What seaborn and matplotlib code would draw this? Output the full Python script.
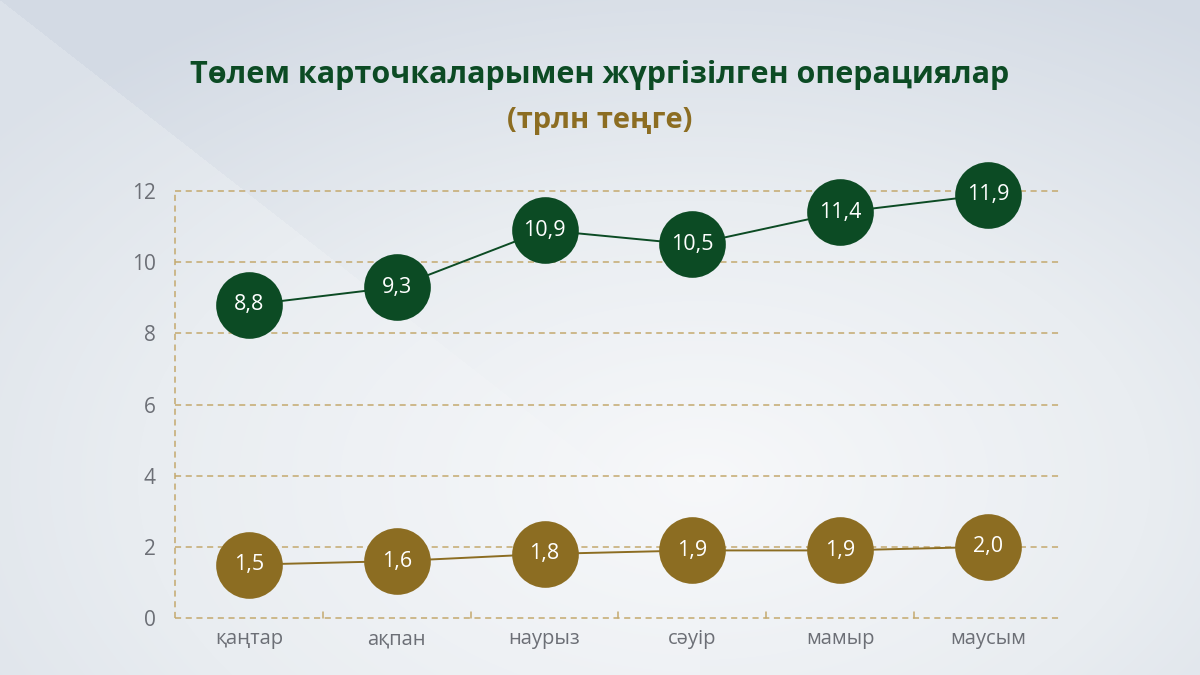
import numpy as np
import pandas as pd
import seaborn as sns
import matplotlib.pyplot as plt
from matplotlib.colors import LinearSegmentedColormap

# chart data
months = ['қаңтар', 'ақпан', 'наурыз', 'сәуір', 'мамыр', 'маусым']
cards_total = [8.8, 9.3, 10.9, 10.5, 11.4, 11.9]
cards_other = [1.5, 1.6, 1.8, 1.9, 1.9, 2.0]
y_ticks = [0, 2, 4, 6, 8, 10, 12]

GREEN = '#0c4b24'
GOLD = '#8c6d22'
GRID = '#c4a96e'
TICK = '#6c6f76'

sns.set_theme(style='white')
plt.rcParams['font.family'] = ['Open Sans', 'DejaVu Sans']

df = pd.DataFrame({
    'month': months * 2,
    'value': cards_total + cards_other,
    'series': ['total'] * len(months) + ['other'] * len(months),
})

fig = plt.figure(figsize=(12, 6.75), dpi=100)

# background gradient
bg = fig.add_axes([0, 0, 1, 1], zorder=-1)
h, w = 675, 1200
yy, xx = np.mgrid[0:h, 0:w]
r = np.sqrt(((xx - 700) / 900.0) ** 2 + ((yy - 480) / 560.0) ** 2)
r = np.clip(r, 0, 1)
# lighter diagonal band in the top-left corner
band = (yy > xx * 0.78) & (xx < 700)
r = np.where(band, r * 0.8, r)
cmap = LinearSegmentedColormap.from_list('bg', ['#f7f8fa', '#e9edf1', '#d3dae4'])
bg.imshow(r, cmap=cmap, aspect='auto', extent=[0, 1, 0, 1], origin='upper')
bg.axis('off')

ax = fig.add_axes([0.1458, 0.0844, 0.7392, 0.6326])
ax.set_facecolor('none')

sns.lineplot(data=df, x='month', y='value', hue='series',
             palette={'total': GREEN, 'other': GOLD}, sort=False,
             marker='o', markersize=48, markeredgewidth=0, linewidth=1.4,
             legend=False, ax=ax, clip_on=False)

for i, (a, b) in enumerate(zip(cards_total, cards_other)):
    ax.text(i, a, f'{a:.1f}'.replace('.', ','), ha='center', va='center',
            color='white', fontsize=15.5, zorder=5)
    ax.text(i, b, f'{b:.1f}'.replace('.', ','), ha='center', va='center',
            color='white', fontsize=15.5, zorder=5)

ax.set_xlim(-0.5, len(months) - 0.5)
ax.set_ylim(0, 12)
ax.set_yticks(y_ticks)
ax.set_yticklabels([str(t) for t in y_ticks])
ax.set_xlabel('')
ax.set_ylabel('')

for t in y_ticks:
    ax.axhline(t, color=GRID, linestyle=(0, (4, 3)), linewidth=1.1,
               zorder=0, clip_on=False)
ax.axvline(-0.5, color=GRID, linestyle=(0, (4, 3)), linewidth=1.1,
           zorder=0, clip_on=False)
for k in range(1, len(months)):
    ax.plot([k - 0.5, k - 0.5], [0, 0.18], color=GRID, linewidth=1.1,
            zorder=0, clip_on=False)

for s in ax.spines.values():
    s.set_visible(False)
ax.tick_params(axis='y', length=0, pad=14, labelsize=15, labelcolor=TICK)
ax.tick_params(axis='x', length=0, pad=8, labelsize=14.5, labelcolor=TICK)

fig.text(0.5, 0.889, 'Төлем карточкаларымен жүргізілген операциялар',
         ha='center', va='center', fontsize=22, fontweight='bold', color=GREEN)
fig.text(0.5, 0.822, '(трлн теңге)', ha='center', va='center',
         fontsize=21, fontweight='bold', color=GOLD)

fig.savefig('out.png', dpi=100)
